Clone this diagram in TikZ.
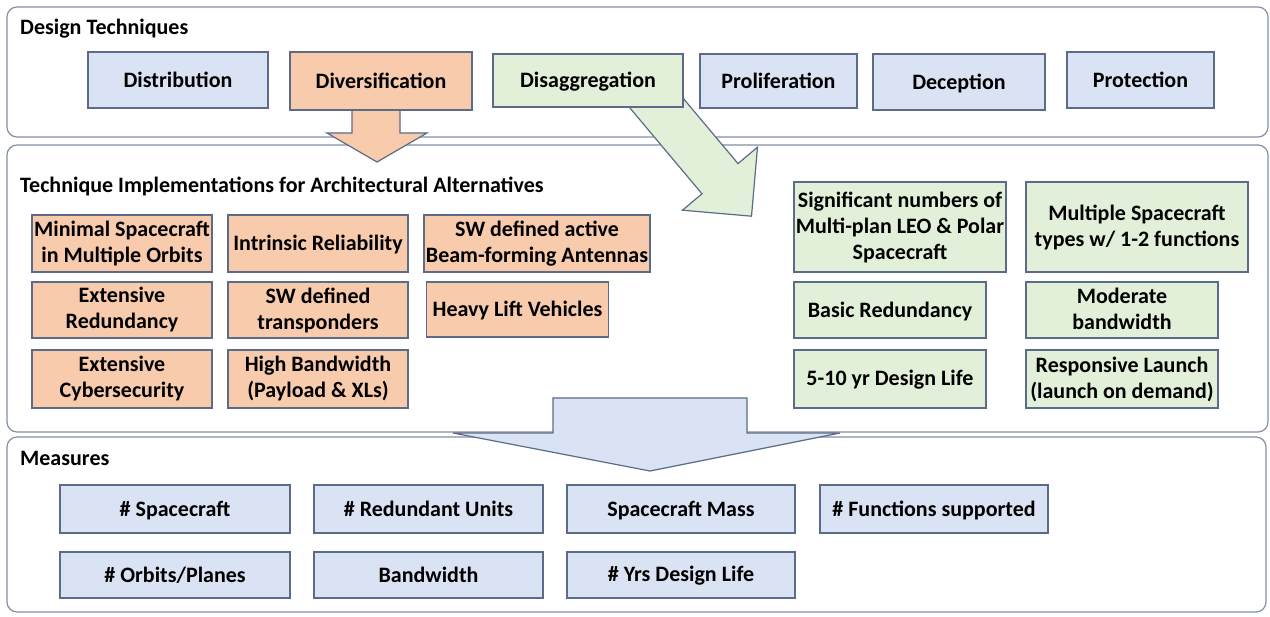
\documentclass[tikz,border=0pt]{standalone}
\usepackage{fontspec}
\setmainfont{Carlito}
\definecolor{bluefill}{HTML}{DAE3F3}
\definecolor{orangefill}{HTML}{F8CBAD}
\definecolor{greenfill}{HTML}{E2F0D9}
\definecolor{boxline}{HTML}{5C6C88}
\definecolor{panelline}{HTML}{8490A4}
% fixed top and bottom struts so every label sits on the same optical centre
\newcommand\topstrut{\rule{0pt}{17.6pt}}
\newcommand\botstrut{\rule[-3.4pt]{0pt}{3.4pt}}
\begin{document}
\begin{tikzpicture}[x=1pt,y=-1pt,
  every node/.style={font=\fontsize{22}{26}\selectfont\bfseries, text=black},
  boxsize/.style 2 args={minimum width=#1pt, minimum height=#2pt},
  box/.style={draw=boxline, line width=1.3pt, align=center, inner sep=0pt,
    execute at begin node=\topstrut, execute at end node=\botstrut},
  bluebox/.style={box, fill=bluefill},
  orangebox/.style={box, fill=orangefill},
  greenbox/.style={box, fill=greenfill},
  panel/.style={draw=panelline, line width=1.2pt, fill=white, rounded corners=10pt},
  blockarrow/.style={draw=boxline, line width=1.2pt, line join=miter},
  title/.style={anchor=base west, inner sep=0pt}]
\useasboundingbox (0,0) rectangle (1270,617);
\fill[white] (0,0) rectangle (1270,617);

% three panels
\draw[panel] (7,7) rectangle (1268,137);
\draw[panel] (7,145) rectangle (1268,432);
\draw[panel] (7,437) rectangle (1266,612);

\node[title] (ttech) at (20,35) {Design Techniques};
\node[title] (timpl) at (20,193) {Technique Implementations for Architectural Alternatives};
\node[title] (tmeas) at (20,466) {Measures};

% block arrows between the panels
\path[blockarrow, fill=orangefill]
  (352,104) -- (352,133) -- (327,133) -- (377,162) -- (427,133) -- (400,133) -- (400,104) -- cycle;
\path[blockarrow, fill=greenfill]
  (617.1,92.7) -- (702.0,193.8) -- (682.5,210.2) -- (751.5,216.2) -- (757.5,147.2)
  -- (738.0,163.6) -- (653.1,62.5) -- cycle;
\path[blockarrow, fill=bluefill]
  (553,398) -- (747,398) -- (747,433) -- (840,433) -- (650,471) -- (453,433) -- (553,433) -- cycle;

% design techniques
\node[bluebox, boxsize={180}{56}] (dist) at (178,80) {Distribution};
\node[orangebox, boxsize={182}{58}] (divr) at (381,81) {Diversification};
\node[greenbox, boxsize={190}{53}] (disag) at (588,80.5) {Disaggregation};
\node[bluebox, boxsize={157}{54}] (prol) at (778.5,81) {Proliferation};
\node[bluebox, boxsize={172}{56}] (decep) at (959,82) {Deception};
\node[bluebox, boxsize={147}{56}] (prot) at (1140.5,80) {Protection};

% diversification implementations
\node[orangebox, boxsize={180}{57}] (minsc) at (122,243.5) {Minimal Spacecraft\\in Multiple Orbits};
\node[orangebox, boxsize={180}{57}] (intr) at (318,243.5) {Intrinsic Reliability};
\node[orangebox, boxsize={226}{57}] (swant) at (537,243.5) {SW defined active\\Beam-forming Antennas};
\node[orangebox, boxsize={180}{56}] (extred) at (122,310) {Extensive\\Redundancy};
\node[orangebox, boxsize={180}{56}] (swtr) at (318,310) {SW defined\\transponders};
\node[orangebox, boxsize={182}{55}] (heavy) at (517.5,309.5) {Heavy Lift Vehicles};
\node[orangebox, boxsize={180}{58}] (cyber) at (122,379) {Extensive\\Cybersecurity};
\node[orangebox, boxsize={180}{58}] (hibw) at (318,379) {High Bandwidth\\(Payload \& XLs)};

% disaggregation implementations
\node[greenbox, boxsize={212}{90}] (signum) at (900,227) {Significant numbers of\\Multi-plan LEO \& Polar\\Spacecraft};
\node[greenbox, boxsize={222}{90}] (multsc) at (1137,227) {Multiple Spacecraft\\types w/ 1-2 functions};
\node[greenbox, boxsize={192}{56}] (basred) at (890,310) {Basic Redundancy};
\node[greenbox, boxsize={192}{56}] (modbw) at (1122,310) {Moderate\\bandwidth};
\node[greenbox, boxsize={192}{58}] (life) at (890,379) {5-10 yr Design Life};
\node[greenbox, boxsize={192}{58}] (resp) at (1122,379) {Responsive Launch\\(launch on demand)};

% measures
\node[bluebox, boxsize={230}{48}] (nsc) at (175,509) {\# Spacecraft};
\node[bluebox, boxsize={229}{48}] (nred) at (428.5,509) {\# Redundant Units};
\node[bluebox, boxsize={228}{48}] (mass) at (681,509) {Spacecraft Mass};
\node[bluebox, boxsize={228}{48}] (nfunc) at (934,509) {\# Functions supported};
\node[bluebox, boxsize={230}{46}] (norb) at (175,575) {\# Orbits/Planes};
\node[bluebox, boxsize={229}{46}] (bw) at (428.5,575) {Bandwidth};
\node[bluebox, boxsize={228}{46}] (nyrs) at (681,575) {\# Yrs Design Life};
\end{tikzpicture}
\end{document}
